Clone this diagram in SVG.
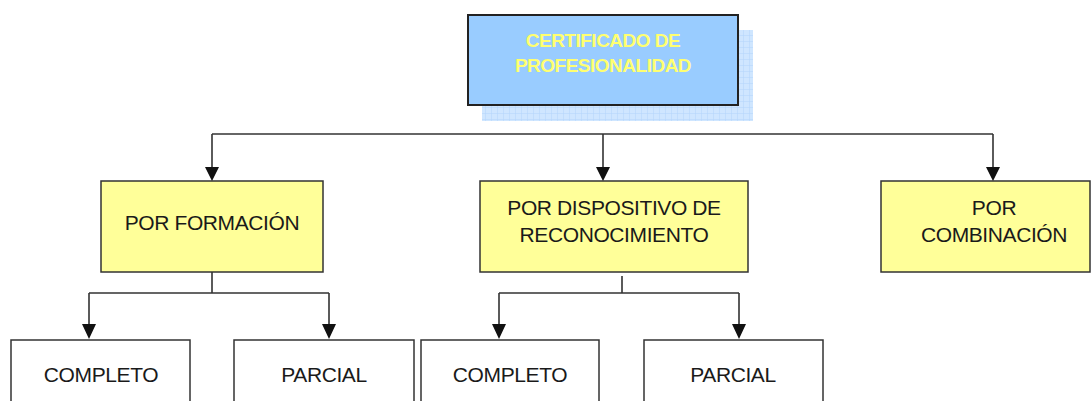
<svg xmlns="http://www.w3.org/2000/svg" width="1091" height="401" viewBox="0 0 1091 401">
<style>
.box{stroke:#333;stroke-width:1.5}
.y{fill:#FFFF99}
.w{fill:#fff}
.t{font-family:"Liberation Sans",Arial,sans-serif;font-size:21px;letter-spacing:-0.4px;fill:#1a1a1a;text-anchor:middle}
.h{font-family:"Liberation Sans",Arial,sans-serif;font-size:19px;letter-spacing:-0.5px;font-weight:bold;fill:#FFFF70;text-anchor:middle}
.c{fill:none;stroke:#333;stroke-width:1.6}
</style>
<defs>
<pattern id="grid" width="6" height="6" patternUnits="userSpaceOnUse">
<rect width="6" height="6" fill="#CFE6FF"/>
<path d="M6 0V6M0 6H6" stroke="#B3D5FB" stroke-width="1"/>
</pattern>
</defs>
<g id="root">
<rect x="482" y="30" width="271" height="91" fill="url(#grid)"/>
<rect x="468" y="15" width="270" height="90" fill="#99CCFF" stroke="#222" stroke-width="2"/>
<text class="h" x="603" y="47">CERTIFICADO DE</text>
<text class="h" x="603" y="72">PROFESIONALIDAD</text>
</g>
<g id="formacion">
<rect class="box y" x="101" y="181" width="222" height="91"/>
<text class="t" x="212" y="230">POR FORMACIÓN</text>
</g>
<g id="dispositivo">
<rect class="box y" x="480" y="181" width="268" height="91"/>
<text class="t" x="614" y="215">POR DISPOSITIVO DE</text>
<text class="t" x="614" y="242">RECONOCIMIENTO</text>
</g>
<g id="combinacion">
<rect class="box y" x="881" y="181" width="209" height="91"/>
<text class="t" x="994" y="215">POR</text>
<text class="t" x="994" y="242">COMBINACIÓN</text>
</g>
<g id="completo1">
<rect class="box w" x="11" y="340" width="179" height="70"/>
<text class="t" x="101" y="382">COMPLETO</text>
</g>
<g id="parcial1">
<rect class="box w" x="234" y="340" width="180" height="70"/>
<text class="t" x="324" y="382">PARCIAL</text>
</g>
<g id="completo2">
<rect class="box w" x="421" y="340" width="178" height="70"/>
<text class="t" x="510" y="382">COMPLETO</text>
</g>
<g id="parcial2">
<rect class="box w" x="644" y="340" width="179" height="70"/>
<text class="t" x="733" y="382">PARCIAL</text>
</g>
<g id="connectors">
<path class="c" d="M212 134H993"/>
<path class="c" d="M212 134V168"/>
<path class="c" d="M603 134V168"/>
<path class="c" d="M993 134V168"/>
<path d="M205 167H219L212 181Z M596 167H610L603 181Z M986 167H1000L993 181Z" fill="#111"/>
<path class="c" d="M212 272V293M89 293H329M89 293V325M329 293V325"/>
<path class="c" d="M622 276V293M499 293H739M499 293V325M739 293V325"/>
<path d="M82 324H96L89 339Z M322 324H336L329 339Z M492 324H506L499 339Z M732 324H746L739 339Z" fill="#111"/>
</g>
</svg>
